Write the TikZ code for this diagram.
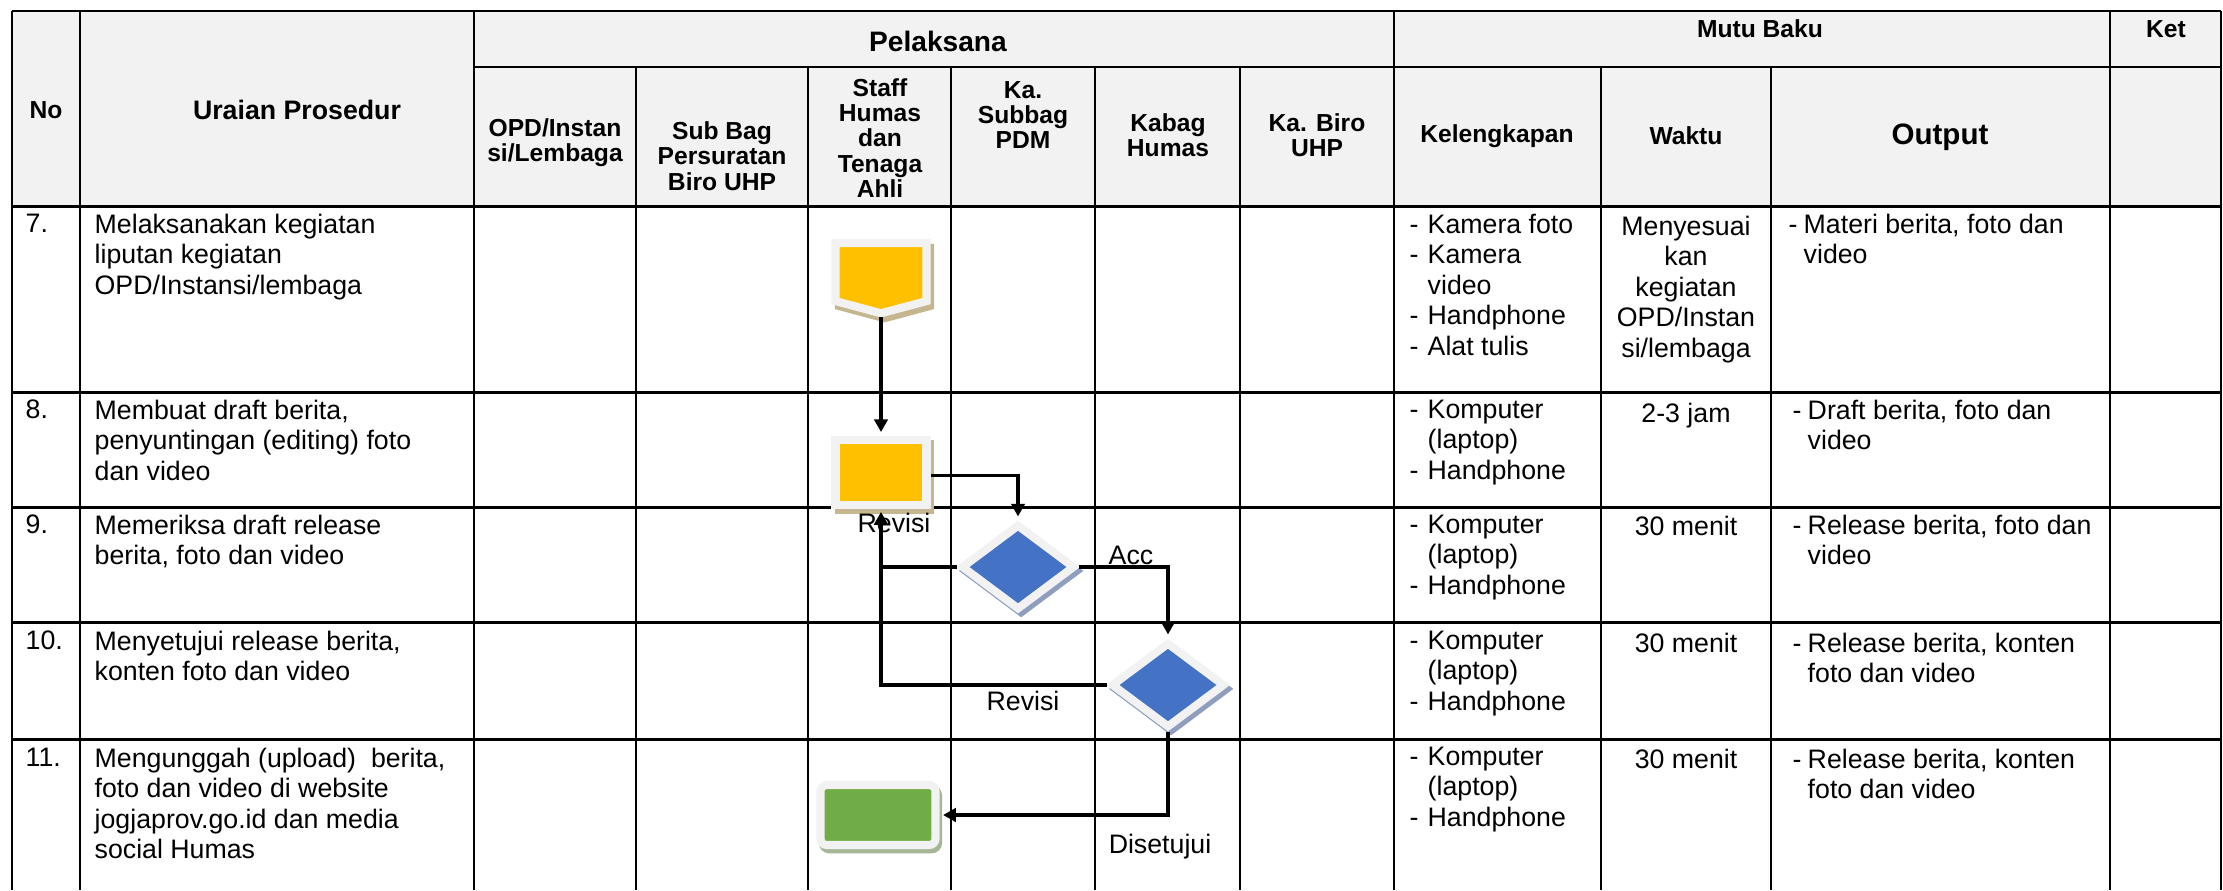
\documentclass[tikz,border=0pt]{standalone}
\usepackage{fontspec}
\setmainfont{Liberation Sans}
\usetikzlibrary{arrows.meta,shapes.geometric,shapes.symbols,shadows,positioning}
\definecolor{kuning}{HTML}{FFC000}
\definecolor{biru}{HTML}{4472C4}
\definecolor{hijau}{HTML}{70AD47}
\definecolor{bingkai}{HTML}{F2F2F2}
\definecolor{bykuning}{RGB}{196,182,142}
\definecolor{bybiru}{RGB}{143,158,190}
\definecolor{byhijau}{RGB}{165,182,150}
\newcommand\butir{\makebox[0.18cm][l]{-}}
\newcommand\lanjut{\hspace*{0.18cm}}
\newcommand\butirb{\makebox[0.15cm][l]{-}}
\newcommand\lanjutb{\hspace*{0.15cm}}
\tikzset{
  hd/.style={font=\bfseries\fontsize{7}{7.2}\selectfont, align=center, inner sep=0},
  tx/.style={font=\fontsize{7.6}{8.7}\selectfont, align=left, anchor=north west, inner sep=0},
  tc/.style={tx, align=center, anchor=north},
  lbl/.style={font=\fontsize{7.6}{8.7}\selectfont, inner sep=0},
  tahap/.style={draw=bingkai, line width=2.3pt, inner sep=0},
  alur/.style={line width=.9pt, -{Triangle[length=3.6pt,width=3.8pt]}, shorten >=1pt}
}

\begin{document}
\begin{tikzpicture}[x=0.01cm, y=-0.01cm]
  \useasboundingbox (0,0) rectangle (2223,890);

  % kepala tabel
  \fill[bingkai] (12,11) rectangle (2221,206);
  \draw[line width=.75pt] (12,11) -- (2221,11) (474,67) -- (2221,67);
  \foreach \y in {206,392,507,622,739}
    \draw[line width=.85pt] (12,\y) -- (2221,\y);
  \foreach \x in {12,80,474,1394,2110,2221}
    \draw[line width=.6pt] (\x,11) -- (\x,890);
  \foreach \x in {636,808,951,1095,1240,1601,1771}
    \draw[line width=.6pt] (\x,67) -- (\x,890);

  \node[hd] (no) at (46,110) {No};
  \node[hd, font=\bfseries\fontsize{7.6}{8}\selectfont] (uraian) at (297,110) {Uraian Prosedur};
  \node[hd, font=\bfseries\fontsize{8}{8}\selectfont] (pelaksana) at (938,41) {Pelaksana};
  \node[hd] (mutu) at (1760,29) {Mutu Baku};
  \node[hd] (ket) at (2166,29) {Ket};
  \node[hd] (opd) at (555,143) {OPD/Instan\\si/Lembaga};
  \node[hd] (subbag) at (722,156) {Sub Bag\\Persuratan\\Biro UHP};
  \node[hd] (staff) at (880,138) {Staff\\Humas\\dan\\Tenaga\\Ahli};
  \node[hd] (kasub) at (1023,115) {Ka.\\Subbag\\PDM};
  \node[hd] (kabag) at (1168,135) {Kabag\\Humas};
  \node[hd] (kabiro) at (1317,135) {Ka. Biro\\UHP};
  \node[hd] (lengkap) at (1497,136) {Kelengkapan};
  \node[hd] (waktu) at (1686,136) {Waktu};
  \node[hd, font=\bfseries\fontsize{8.4}{8.4}\selectfont] (output) at (1940,137) {Output};

  % baris 7
  \node[tx] (n7) at (25,213) {7.};
  \node[tx] (u7) at (94,213) {Melaksanakan kegiatan\\liputan kegiatan\\OPD/Instansi/lembaga};
  \node[tx] (k7) at (1409,213) {\butir Kamera foto\\\butir Kamera\\\lanjut video\\\butir Handphone\\\butir Alat tulis};
  \node[tc] (w7) at (1686,215) {Menyesuai\\kan\\kegiatan\\OPD/Instan\\si/lembaga};
  \node[tx] (o7) at (1788,213) {\butirb Materi berita, foto dan\\\lanjutb video};

  % baris 8
  \node[tx] (n8) at (25,399) {8.};
  \node[tx] (u8) at (94,399) {Membuat draft berita,\\penyuntingan (editing) foto\\dan video};
  \node[tx] (k8) at (1409,399) {\butir Komputer\\\lanjut (laptop)\\\butir Handphone};
  \node[tc] (w8) at (1686,402) {2-3 jam};
  \node[tx] (o8) at (1792,399) {\butirb Draft berita, foto dan\\\lanjutb video};

  % baris 9
  \node[tx] (n9) at (25,514) {9.};
  \node[tx] (u9) at (94,514) {Memeriksa draft release\\berita, foto dan video};
  \node[tx] (k9) at (1409,514) {\butir Komputer\\\lanjut (laptop)\\\butir Handphone};
  \node[tc] (w9) at (1686,515) {30 menit};
  \node[tx] (o9) at (1792,514) {\butirb Release berita, foto dan\\\lanjutb video};

  % baris 10
  \node[tx] (n10) at (25,630) {10.};
  \node[tx] (u10) at (94,630) {Menyetujui release berita,\\konten foto dan video};
  \node[tx] (k10) at (1409,630) {\butir Komputer\\\lanjut (laptop)\\\butir Handphone};
  \node[tc] (w10) at (1686,632) {30 menit};
  \node[tx] (o10) at (1792,632) {\butirb Release berita, konten\\\lanjutb foto dan video};

  % baris 11
  \node[tx] (n11) at (25,747) {11.};
  \node[tx] (u11) at (94,747) {Mengunggah (upload) \ berita,\\foto dan video di website\\jogjaprov.go.id dan media\\social Humas};
  \node[tx] (k11) at (1409,746) {\butir Komputer\\\lanjut (laptop)\\\butir Handphone};
  \node[tc] (w11) at (1686,748) {30 menit};
  \node[tx] (o11) at (1792,748) {\butirb Release berita, konten\\\lanjutb foto dan video};

  % bagan alir
  \node[tahap, signal, signal to=south, signal pointer angle=150, fill=kuning,
        minimum width=0.91cm, minimum height=0.58cm, anchor=north,
        general shadow={fill=bykuning, draw=bykuning, line width=2.3pt,
          shadow xshift=1pt, shadow yshift=-1.4pt}] (liput) at (881,239) {};
  \node[tahap, rectangle, fill=kuning, minimum width=0.91cm, minimum height=0.65cm,
        below=1.18cm of liput,
        general shadow={fill=bykuning, draw=bykuning, line width=2.3pt,
          shadow xshift=1pt, shadow yshift=-1.4pt}] (draft) {};
  \node[tahap, diamond, fill=biru, minimum width=1.14cm, minimum height=0.86cm,
        general shadow={fill=bybiru, draw=bybiru, line width=2.3pt,
          shadow xshift=.9pt, shadow yshift=-1.1pt}] (periksa) at (1018,567) {};
  \node[tahap, diamond, fill=biru, minimum width=1.14cm, minimum height=0.86cm,
        general shadow={fill=bybiru, draw=bybiru, line width=2.3pt,
          shadow xshift=.9pt, shadow yshift=-1.1pt}] (setuju) at (1168,685) {};
  \node[tahap, rectangle, rounded corners=1.8pt, fill=hijau,
        minimum width=1.15cm, minimum height=0.60cm,
        general shadow={fill=byhijau, draw=byhijau, line width=2.3pt,
          shadow xshift=.7pt, shadow yshift=-1.2pt}] (unggah) at (878,815) {};

  \draw[alur] (liput.south) -- (draft.north);
  \draw[alur] ([yshift=-1pt]draft.east) -| (periksa.north);
  \draw[alur] (periksa.west) -| (draft.south);
  \draw[alur] (setuju.west) -| (draft.south);
  \draw[alur] (periksa.east) -| (setuju.north);
  \draw[alur] (setuju.south) |- (unggah.east);

  \node[lbl] (revisi1) at (894,523) {Revisi};
  \node[lbl] (acc) at (1131,555) {Acc};
  \node[lbl] (revisi2) at (1023,701) {Revisi};
  \node[lbl] (disetujui) at (1160,847) {Disetujui};
\end{tikzpicture}
\end{document}
